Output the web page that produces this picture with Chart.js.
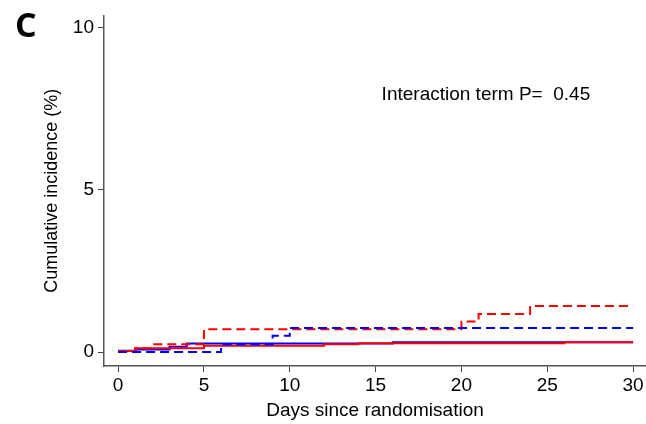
<!DOCTYPE html>
<html>
<head>
<meta charset="utf-8">
<script src="https://cdn.jsdelivr.net/npm/chart.js@4"></script>
<style>
html,body{margin:0;padding:0;background:#fff;}
#wrap{width:646px;height:424px;position:relative;}
</style>
</head>
<body>
<div id="wrap"><canvas id="c" width="646" height="424"></canvas></div>
<script>
// Data (days since randomisation, cumulative incidence %)
const redSolidDays = [0, 1, 5, 12, 14, 26, 30];
const redSolidVals = [0.03, 0.12, 0.19, 0.24, 0.27, 0.30, 0.30];
const redDashDays = [0, 1, 2, 5, 20, 21, 24, 30];
const redDashVals = [0.03, 0.12, 0.24, 0.70, 0.94, 1.17, 1.42, 1.42];
const blueSolidDays = [0, 1, 3, 4, 16, 30];
const blueSolidVals = [0.04, 0.08, 0.16, 0.26, 0.30, 0.30];
const blueDashDays = [0, 6, 9, 10, 30];
const blueDashVals = [0.0, 0.23, 0.50, 0.74, 0.74];
const xTicks = [0, 5, 10, 15, 20, 25, 30];
const yTicks = [0, 5, 10];
const panelLabel = 'C';
const annotationText = 'Interaction term P=  0.45';
const annotationPos = {x: 15.35, y: 7.77};

function pts(d, v){ return d.map((x,i)=>({x:x, y:v[i]})); }

const textPlugin = {
  id:'texts',
  afterDraw(chart){
    const ctx = chart.ctx;
    ctx.save();
    ctx.fillStyle = '#000';
    ctx.font = 'bold 34px "Open Sans"';
    ctx.textAlign = 'left';
    ctx.textBaseline = 'alphabetic';
    ctx.fillText(panelLabel, 15, 37);
    ctx.font = '19px "Liberation Sans"';
    const xs = chart.scales.x, ys = chart.scales.y;
    ctx.fillText(annotationText, xs.getPixelForValue(annotationPos.x), ys.getPixelForValue(annotationPos.y));
    ctx.restore();
  }
};

const font = {family:'"Liberation Sans", Arial, sans-serif', size:19};
const yTitleFont = {family:'"Liberation Sans", Arial, sans-serif', size:18};

new Chart(document.getElementById('c'), {
  type:'line',
  data:{
    datasets:[
      {data:pts(blueDashDays, blueDashVals), borderColor:'#0000ff', borderWidth:2, borderDash:[9,5], stepped:'before', pointRadius:0, fill:false},
      {data:pts(redDashDays, redDashVals), borderColor:'#ff0000', borderWidth:2, borderDash:[9,5], stepped:'before', pointRadius:0, fill:false},
      {data:pts(redSolidDays, redSolidVals), borderColor:'#ff0000', borderWidth:2, stepped:'before', pointRadius:0, fill:false},
      {data:pts(blueSolidDays, blueSolidVals), borderColor:'#0000ff', borderWidth:2, stepped:'before', pointRadius:0, fill:false}
    ]
  },
  options:{
    responsive:false,
    animation:false,
    events:[],
    layout:{padding:{left:41, top:12, right:0, bottom:2}},
    plugins:{legend:{display:false}, tooltip:{enabled:false}},
    scales:{
      x:{
        type:'linear', min:-0.82, max:30.75,
        afterBuildTicks(s){ s.ticks = xTicks.map(v=>({value:v})); },
        afterFit(s){ s.height = 56; },
        grid:{drawOnChartArea:false, drawTicks:true, tickLength:6, color:'#444'},
        border:{display:true, color:'#555', width:1.5},
        ticks:{color:'#000', font:font, padding:2, maxRotation:0, autoSkip:false},
        title:{display:true, text:'Days since randomisation', color:'#000', font:font, padding:{top:2,bottom:0}}
      },
      y:{
        type:'linear', min:-0.43, max:10.37,
        afterBuildTicks(s){ s.ticks = yTicks.map(v=>({value:v})); },
        afterFit(s){ s.width = 63; },
        grid:{drawOnChartArea:false, drawTicks:true, tickLength:6, color:'#444'},
        border:{display:true, color:'#555', width:1.5},
        ticks:{color:'#000', font:font, padding:4, autoSkip:false},
        title:{display:true, text:'Cumulative incidence (%)', color:'#000', font:yTitleFont, padding:{top:0,bottom:4}}
      }
    }
  },
  plugins:[textPlugin]
});
</script>
</body>
</html>
